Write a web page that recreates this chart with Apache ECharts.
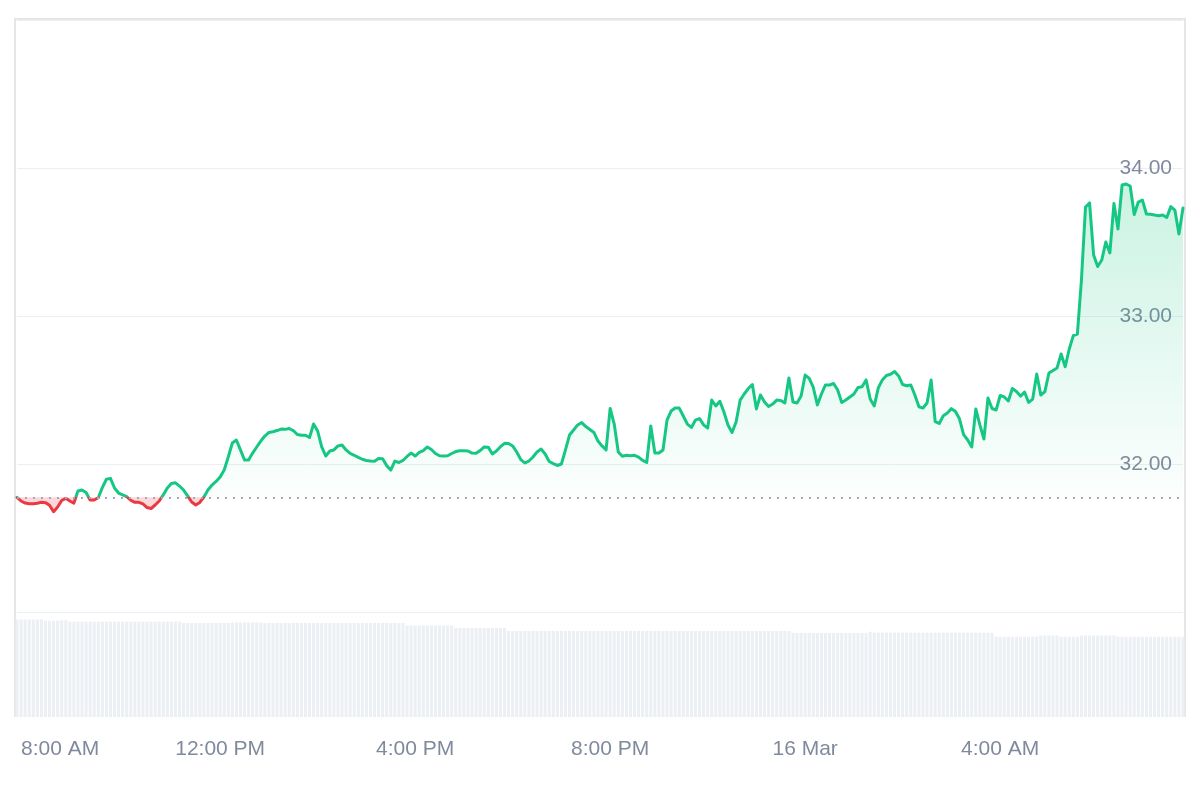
<!DOCTYPE html>
<html><head><meta charset="utf-8">
<script src="https://cdn.jsdelivr.net/npm/echarts@6/dist/echarts.min.js"></script>
<style>html,body{margin:0;padding:0;background:#fff}#c{width:1200px;height:800px}</style>
</head><body><div id="c"></div>
<script>
// Price, 5-minute steps
const prices = [
31.775,31.750,31.736,31.731,31.731,31.735,31.741,31.739,31.721,31.678,31.709,31.753,
31.768,31.750,31.736,31.818,31.824,31.807,31.757,31.757,31.772,31.840,31.897,31.903,
31.838,31.804,31.792,31.780,31.755,31.741,31.741,31.730,31.706,31.699,31.723,31.750,
31.791,31.838,31.868,31.873,31.851,31.824,31.784,31.743,31.723,31.740,31.777,31.824,
31.858,31.882,31.912,31.959,32.047,32.142,32.162,32.095,32.027,32.027,32.074,32.115,
32.155,32.189,32.213,32.218,32.226,32.236,32.234,32.240,32.226,32.199,32.194,32.194,
32.179,32.270,32.223,32.115,32.054,32.088,32.095,32.122,32.128,32.095,32.071,32.059,
32.045,32.032,32.024,32.020,32.018,32.037,32.035,31.989,31.959,32.020,32.010,32.024,
32.051,32.074,32.054,32.078,32.091,32.115,32.098,32.071,32.056,32.054,32.056,32.071,
32.084,32.090,32.090,32.088,32.074,32.072,32.091,32.115,32.114,32.068,32.088,32.117,
32.140,32.139,32.122,32.081,32.030,32.007,32.020,32.047,32.081,32.101,32.068,32.017,
32.003,31.990,32.000,32.095,32.196,32.230,32.264,32.280,32.253,32.233,32.213,32.155,
32.122,32.095,32.375,32.270,32.081,32.052,32.059,32.056,32.059,32.047,32.024,32.010,
32.257,32.074,32.074,32.095,32.297,32.358,32.378,32.378,32.324,32.270,32.247,32.297,
32.307,32.264,32.243,32.432,32.392,32.424,32.351,32.264,32.213,32.284,32.432,32.473,
32.510,32.537,32.372,32.466,32.419,32.389,32.405,32.432,32.429,32.412,32.581,32.419,
32.412,32.459,32.601,32.578,32.517,32.399,32.473,32.534,32.534,32.544,32.500,32.416,
32.432,32.453,32.473,32.517,32.522,32.568,32.439,32.392,32.514,32.568,32.598,32.606,
32.625,32.595,32.537,32.529,32.534,32.466,32.387,32.378,32.412,32.568,32.287,32.274,
32.326,32.345,32.374,32.355,32.304,32.198,32.162,32.115,32.372,32.264,32.169,32.446,
32.375,32.365,32.463,32.453,32.426,32.510,32.490,32.459,32.486,32.416,32.439,32.608,
32.466,32.489,32.615,32.632,32.649,32.743,32.657,32.777,32.867,32.878,33.243,33.736,
33.764,33.412,33.334,33.378,33.500,33.426,33.760,33.588,33.885,33.892,33.878,33.686,
33.770,33.784,33.689,33.687,33.682,33.678,33.682,33.666,33.739,33.716,33.554,33.730
];
// Volume (relative units)
const volumes = [
97.5,97.5,97.5,97.5,97.5,97.5,97.5,96.3,96.3,96.3,96.3,96.8,
96.8,95.3,95.3,95.3,95.3,95.3,95.3,95.3,95.3,95.3,95.3,95.3,
95.3,95.3,95.3,95.3,95.3,95.3,95.3,95.3,95.3,95.3,95.3,95.3,
95.3,95.3,95.3,95.3,95.3,94,94,94,94,94,94,94,
94,94.3,94,94,94,94.5,94.5,94.5,94.5,94.5,94.5,94.5,
94.5,94,94,94,94,94,94,94,94,94,94,94,
94,94,94,94,94,94,94,94,94,94,94,94,
94,94,94,94,94,94,94,94,94,94,94,94,
91.5,91.5,91.5,91.5,91.5,91.5,91.5,91.5,91.5,91.5,91.5,91.5,
89,89,89,89,89,89,89,89,89,89,89,89,
89,86,86,86,86,86,86,86,86,86,86,86,
86,86,86,86,86,86,86,86,86,86,86,86,
86,86,86,86,86,86,86,86,86,86,86,86,
86,86,86,86,86,86,86,86,86,86,86,86,
86,86,86,86,86,86,86,86,86,86,86,86,
86,86,86,86,86,86,86,86,86,86,86,84,
84,84,84,84,84,84,84,84,84,84,84,84,
84,84,84,84,84,84,85.3,84.3,84.3,84.3,84.3,84.3,
84.3,84.3,84.3,84.3,84.3,84.3,84.3,84.3,84.3,84.3,84.3,84.3,
84.3,84.3,84.3,84.3,84.3,84.3,84.3,84.3,84.3,84.3,84.3,84.3,
84.3,80.3,80.3,80.3,80.3,80.3,80.3,80.3,80.3,80.3,80.3,80.3,
81.5,81.5,81.5,81.5,81.5,80.3,80.3,80.3,80.3,80.3,81.5,81.5,
81.5,81.5,81.5,81.5,81.5,81.5,81.5,80.3,80.3,80.3,80.3,80.3,
80.3,80.3,80.3,80.3,80.3,80.3,80.3,80.3,80.3,80.3,80.3,80.3
];
const startTime = new Date(2024, 2, 15, 7, 50, 0);
const stepMinutes = 5;
const monthName = 'Mar';
const yTickValues = [32, 33, 34];

const GREEN = '#16c784', RED = '#ea3943', LABEL = '#808a9d';
const FONT = "'Liberation Sans', Arial, Helvetica, sans-serif";
const base = prices[0];

const times = prices.map((_, i) => new Date(startTime.getTime() + i * stepMinutes * 60000));
const cats = times.map((t, i) => String(i));
function fmt(d) {
  if (d.getHours() === 0 && d.getMinutes() === 0) return d.getDate() + ' ' + monthName;
  let h = d.getHours() % 12; if (h === 0) h = 12;
  return h + ':' + String(d.getMinutes()).padStart(2, '0') + ' ' + (d.getHours() < 12 ? 'AM' : 'PM');
}
const isTick = i => times[i].getMinutes() === 0 && times[i].getHours() % 4 === 0;
let firstTick = -1;
for (let i = 0; i < times.length; i++) { if (isTick(i)) { firstTick = i; break; } }

const chart = echarts.init(document.getElementById('c'), null, {renderer: 'canvas'});
const option = {
  animation: false,
  backgroundColor: '#ffffff',
  graphic: [{
    type: 'polyline', silent: true, z: 0,
    shape: {points: [[15, 717], [15, 19], [1185, 19], [1185, 717]]},
    style: {fill: null, stroke: '#e4e6e9', lineWidth: 2}
  }],
  grid: [
    {left: 17, right: 17, top: 20, bottom: 188},
    {left: 15, right: 15, top: 612, bottom: 83}
  ],
  xAxis: [
    {type: 'category', gridIndex: 0, data: cats, boundaryGap: false,
     axisLine: {show: false}, axisTick: {show: false}, axisLabel: {show: false}, splitLine: {show: false}},
    {type: 'category', gridIndex: 1, data: cats, boundaryGap: true,
     axisLine: {show: false}, axisTick: {show: false}, splitLine: {show: false},
     axisLabel: {
       show: true, margin: 22, color: LABEL, fontSize: 21, fontFamily: FONT,
       interval: (idx) => isTick(idx),
       formatter: (val) => {
         const i = +val; const s = fmt(times[i]);
         return i === firstTick ? '{f|' + s + '}' : s;
       },
       rich: {f: {padding: [0, 0, 0, 70], color: LABEL, fontSize: 21, fontFamily: FONT}}
     }}
  ],
  yAxis: [
    {type: 'value', gridIndex: 0, position: 'right', min: 31, max: 35, interval: 1,
     axisLine: {show: false}, axisTick: {show: false},
     splitLine: {show: true, lineStyle: {color: '#eceff2', width: 1}},
     axisLabel: {inside: true, margin: 11, color: LABEL, fontSize: 21, fontFamily: FONT,
       formatter: v => yTickValues.indexOf(v) >= 0 ? v.toFixed(2) : ''}},
    {type: 'value', gridIndex: 1, min: 0, max: 105, show: false, splitLine: {show: false}}
  ],
  series: [
    {type: 'bar', xAxisIndex: 1, yAxisIndex: 1, data: volumes, barCategoryGap: '25%',
     itemStyle: {color: '#eceff3'}, silent: true, z: 1},
    {type: 'line', xAxisIndex: 0, yAxisIndex: 0, data: prices.map(v => Math.max(v, base)),
     symbol: 'none', silent: true, lineStyle: {width: 0, opacity: 0}, z: 2,
     areaStyle: {origin: base, color: new echarts.graphic.LinearGradient(0, 0, 0, 1, [
       {offset: 0, color: 'rgba(22,199,132,0.32)'}, {offset: 1, color: 'rgba(22,199,132,0.02)'}])}},
    {type: 'line', xAxisIndex: 0, yAxisIndex: 0, data: prices.map(v => Math.min(v, base)),
     symbol: 'none', silent: true, lineStyle: {width: 0, opacity: 0}, z: 2,
     areaStyle: {origin: base, color: 'rgba(234,57,67,0.28)'}},
    {type: 'line', xAxisIndex: 0, yAxisIndex: 0, data: prices, symbol: 'none', silent: true, z: 3,
     lineStyle: {width: 3, join: 'round', cap: 'round', color: GREEN},
     markLine: {silent: true, symbol: ['none', 'none'], label: {show: false},
       lineStyle: {color: '#a3a9b8', type: [2, 6], width: 2}, data: [{yAxis: base}]}}
  ]
};
chart.setOption(option);
// Colour the price line green above the opening price and red below it,
// using the axis scale to find where the opening price sits.
const basePx = chart.convertToPixel({yAxisIndex: 0}, base);
const H = 800;
const b = Math.min(1, Math.max(0, basePx / H));
chart.setOption({series: [{}, {}, {}, {
  lineStyle: {color: new echarts.graphic.LinearGradient(0, 0, 0, H, [
    {offset: 0, color: GREEN}, {offset: b, color: GREEN},
    {offset: b, color: RED}, {offset: 1, color: RED}], true)}
}]});
</script></body></html>
